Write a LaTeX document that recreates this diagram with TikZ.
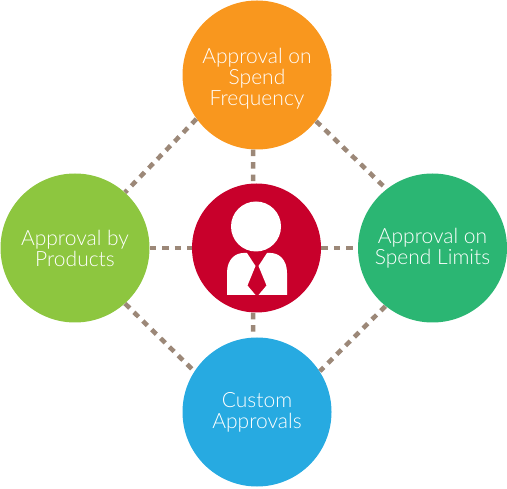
\documentclass[tikz,border=0pt]{standalone}
\usepackage{fontspec}
\setmainfont{Lato}[UprightFont=* Light]
\usepackage{xcolor}
\usetikzlibrary{positioning}
\definecolor{naranja}{HTML}{F9971E}
\definecolor{verde}{HTML}{8DC63F}
\definecolor{esmeralda}{HTML}{2BB673}
\definecolor{celeste}{HTML}{27AAE1}
\definecolor{carmin}{HTML}{C8002B}
\definecolor{topo}{HTML}{9C8878}
\tikzset{
  burbuja/.style={circle,minimum size=2.98cm,inner sep=0pt,text=white,align=center,
    font=\fontsize{11.95}{11.95}\selectfont},
  enlace/.style={topo,line width=2.6pt,dash pattern=on 0.13cm off 0.118cm}
}
\begin{document}
\begin{tikzpicture}
\useasboundingbox (0,0) rectangle (10.14,9.76);
\node[burbuja,fill=naranja] (frequency) at (5.14,8.26) {\rule{0pt}{12.4pt}Approval on\\Spend\\Frequency};
\node[burbuja,fill=verde] (products) at (1.5,4.8) {Approval by\\Products};
\node[burbuja,fill=esmeralda] (limits) at (8.65,4.8) {Approval on\\Spend Limits};
\node[burbuja,fill=celeste] (custom) at (5.14,1.52) {Custom\\Approvals};
\node[circle,fill=carmin,minimum size=2.58cm,inner sep=0pt] (hub) at (5.13,4.8) {};
% person
\fill[white] (5.12,5.23) circle (0.5);
\fill[white] (4.54,3.86) -- (4.54,4.3) .. controls (4.54,4.58) and (4.71,4.7) .. (4.87,4.7)
  -- (4.94,4.7) -- (5.11,4.44) -- (4.95,4.05) -- (5.11,3.86) -- cycle;
\fill[white] (5.74,3.86) -- (5.74,4.3) .. controls (5.74,4.58) and (5.57,4.7) .. (5.41,4.7)
  -- (5.34,4.7) -- (5.17,4.44) -- (5.33,4.05) -- (5.17,3.86) -- cycle;
% dashes
\draw[enlace] (frequency.216.4) -- (products.48.5);
\draw[enlace] (frequency.322.5) -- (limits.128.4);
\draw[enlace] (limits.231) -- (custom.33.9);
\draw[enlace] (products.312) -- (custom.147.1);
\draw[enlace] (frequency.267) -- (hub.93);
\draw[enlace] (hub.267) -- (custom.93);
\draw[enlace] (products.0) -- (hub.180);
\draw[enlace] (hub.0) -- (limits.180);
\end{tikzpicture}
\end{document}
